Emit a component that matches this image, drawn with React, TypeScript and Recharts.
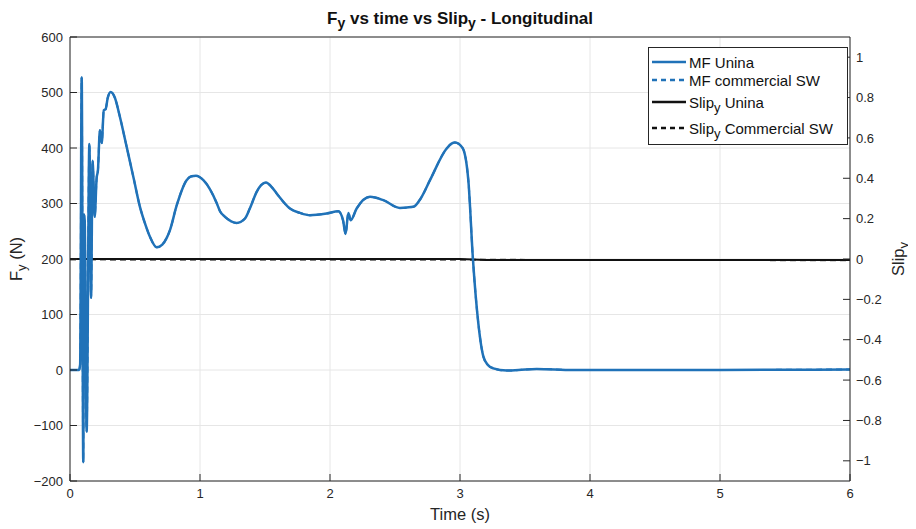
import { LineChart, Line, XAxis, YAxis, CartesianGrid } from 'recharts';

const timeTicks = [0, 1, 2, 3, 4, 5, 6];
const forceTicks = [-200, -100, 0, 100, 200, 300, 400, 500, 600];
const slipTicks = [-1, -0.8, -0.6, -0.4, -0.2, 0, 0.2, 0.4, 0.6, 0.8, 1];

// [time s, Fy N]
const fyPoints: [number, number][] = [
  [0, 0], [0.07, 0], [0.078, 10], [0.09, 527], [0.102, -166], [0.108, 280], [0.113, 270],
  [0.128, -111], [0.149, 407], [0.162, 130], [0.174, 377], [0.19, 276], [0.205, 346],
  [0.215, 360], [0.23, 432], [0.244, 409], [0.26, 468], [0.274, 470], [0.29, 490],
  [0.313, 501], [0.346, 490], [0.38, 460], [0.436, 402], [0.49, 345], [0.538, 294],
  [0.58, 262], [0.615, 240], [0.667, 221], [0.71, 226], [0.744, 238], [0.769, 252],
  [0.82, 296], [0.897, 342], [0.935, 349], [0.969, 350], [1.026, 342], [1.128, 301], [1.154, 286],
  [1.192, 276], [1.24, 268], [1.282, 265], [1.346, 273], [1.385, 292], [1.436, 321],
  [1.47, 333], [1.508, 338], [1.55, 330], [1.59, 318], [1.692, 291], [1.77, 283], [1.846, 279],
  [1.974, 282], [2.064, 286], [2.1, 270], [2.12, 245], [2.141, 283], [2.159, 270],
  [2.205, 291], [2.308, 312], [2.41, 306], [2.538, 292], [2.641, 294], [2.7, 310],
  [2.769, 342], [2.897, 399], [2.935, 408], [2.962, 410], [3.02, 400], [3.064, 342], [3.1, 198],
  [3.141, 84], [3.18, 24], [3.215, 9], [3.256, 3], [3.359, -1], [3.45, 0], [3.59, 2], [3.87, 0],
  [4.3, 0], [5, 0], [6, 1],
];
const fyCommercialPoints: [number, number][] = fyPoints;

const slipUninaPoints: [number, number][] = [[0, 0], [3, 0], [3.2, -0.005], [6, -0.005]];
const slipCommercialPoints: [number, number][] = [[0, -0.003], [3, -0.004], [6, -0.006]];

const fyData = fyPoints.map(([t, v]) => ({ t, v }));
const fyCommercialData = fyCommercialPoints.map(([t, v]) => ({ t, v }));
const slipUninaData = slipUninaPoints.map(([t, v]) => ({ t, v }));
const slipCommercialData = slipCommercialPoints.map(([t, v]) => ({ t, v }));

const axisColor = '#262626';
const blue = '#2072b8';
const font = '"Liberation Sans", Arial, Helvetica, sans-serif';
const tickStyle = { fontSize: 13, fill: axisColor, fontFamily: font };
const fmt = (v: number) => String(Number(v.toFixed(1))).replace('-', '\u2212');

const legendRows = [
  { name: 'MF Unina', sub: '', rest: '', color: blue, dash: undefined },
  { name: 'MF commercial SW', sub: '', rest: '', color: blue, dash: '5 4' },
  { name: 'Slip', sub: 'y', rest: ' Unina', color: '#111', dash: undefined },
  { name: 'Slip', sub: 'y', rest: ' Commercial SW', color: '#111', dash: '5 4' },
];

function LegendBox() {
  return (
    <div style={{ position: 'absolute', left: 640, top: 39, border: `1px solid ${axisColor}`, background: '#fff', width: 198, height: 96, fontFamily: font, fontSize: 15, color: '#111' }}>
      {legendRows.map((r, i) => (
        <div key={i} style={{ position: 'absolute', left: 0, top: [4, 22, 44, 70][i], display: 'flex', alignItems: 'center', height: 20, whiteSpace: 'nowrap' }}>
          <svg width={38} height={10} style={{ marginLeft: 2 }}>
            <line x1={1} y1={5} x2={35} y2={5} stroke={r.color} strokeWidth={2.5} strokeDasharray={r.dash} />
          </svg>
          <span>
            {r.name}
            {r.sub && <sub style={{ fontSize: 13, lineHeight: 0 }}>{r.sub}</sub>}
            {r.rest}
          </span>
        </div>
      ))}
    </div>
  );
}

const subStyle = { fontSize: 13, lineHeight: 0 };

export default function App() {
  return (
    <div style={{ position: 'relative', width: 908, height: 521, background: '#fff' }}>
      <LineChart width={908} height={521} margin={{ top: 28, right: 0, bottom: 0, left: 0 }}>
        <CartesianGrid stroke="#e6e6e6" yAxisId="left" />
        <XAxis type="number" dataKey="t" domain={[0, 6]} ticks={timeTicks} height={48}
          allowDataOverflow stroke={axisColor} tick={tickStyle} tickSize={-7} tickMargin={15} />
        <XAxis xAxisId="top" orientation="top" type="number" dataKey="t" domain={[0, 6]} ticks={timeTicks} height={1}
          stroke={axisColor} tick={tickStyle} tickFormatter={() => ''} tickSize={-7} />
        <YAxis yAxisId="left" type="number" domain={[-200, 600]} ticks={forceTicks} width={62}
          allowDataOverflow stroke={axisColor} tick={tickStyle} tickSize={-7} tickMargin={14} tickFormatter={fmt} />
        <YAxis yAxisId="right" orientation="right" type="number" domain={[-1.1, 1.1]} ticks={slipTicks} width={66}
          allowDataOverflow stroke={axisColor} tick={tickStyle} tickSize={-7} tickMargin={13} tickFormatter={fmt} />
        <Line yAxisId="left" data={fyCommercialData} dataKey="v" type="monotone" stroke={blue} strokeWidth={2}
          strokeDasharray="6 4" dot={false} isAnimationActive={false} />
        <Line yAxisId="right" data={slipCommercialData} dataKey="v" type="linear" stroke="#555" strokeWidth={2}
          strokeDasharray="6 4" dot={false} isAnimationActive={false} />
        <Line yAxisId="right" data={slipUninaData} dataKey="v" type="linear" stroke="#111" strokeWidth={2}
          dot={false} isAnimationActive={false} />
        <Line yAxisId="left" data={fyData} dataKey="v" type="monotone" stroke={blue} strokeWidth={2.5}
          dot={false} isAnimationActive={false} />
      </LineChart>
      <LegendBox />
      <div style={{ position: 'absolute', left: 0, width: 904, top: 1, textAlign: 'center', fontFamily: font, fontSize: 17, fontWeight: 'bold', color: '#111' }}>
        F<sub style={{ fontSize: 14, lineHeight: 0 }}>y</sub> vs time vs Slip<sub style={{ fontSize: 14, lineHeight: 0 }}>y</sub> - Longitudinal
      </div>
      <div style={{ position: 'absolute', left: 0, width: 904, top: 497, textAlign: 'center', fontFamily: font, fontSize: 16.5, color: axisColor }}>
        Time (s)
      </div>
      <div style={{ position: 'absolute', left: 8, top: 251, width: 0, height: 0 }}>
        <div style={{ position: 'absolute', transform: 'translate(-50%, -50%) rotate(-90deg)', whiteSpace: 'nowrap', fontFamily: font, fontSize: 16.5, color: axisColor }}>
          F<sub style={subStyle}>y</sub> (N)
        </div>
      </div>
      <div style={{ position: 'absolute', left: 890, top: 251, width: 0, height: 0 }}>
        <div style={{ position: 'absolute', transform: 'translate(-50%, -50%) rotate(-90deg)', whiteSpace: 'nowrap', fontFamily: font, fontSize: 16.5, color: axisColor }}>
          Slip<sub style={subStyle}>y</sub>
        </div>
      </div>
    </div>
  );
}
